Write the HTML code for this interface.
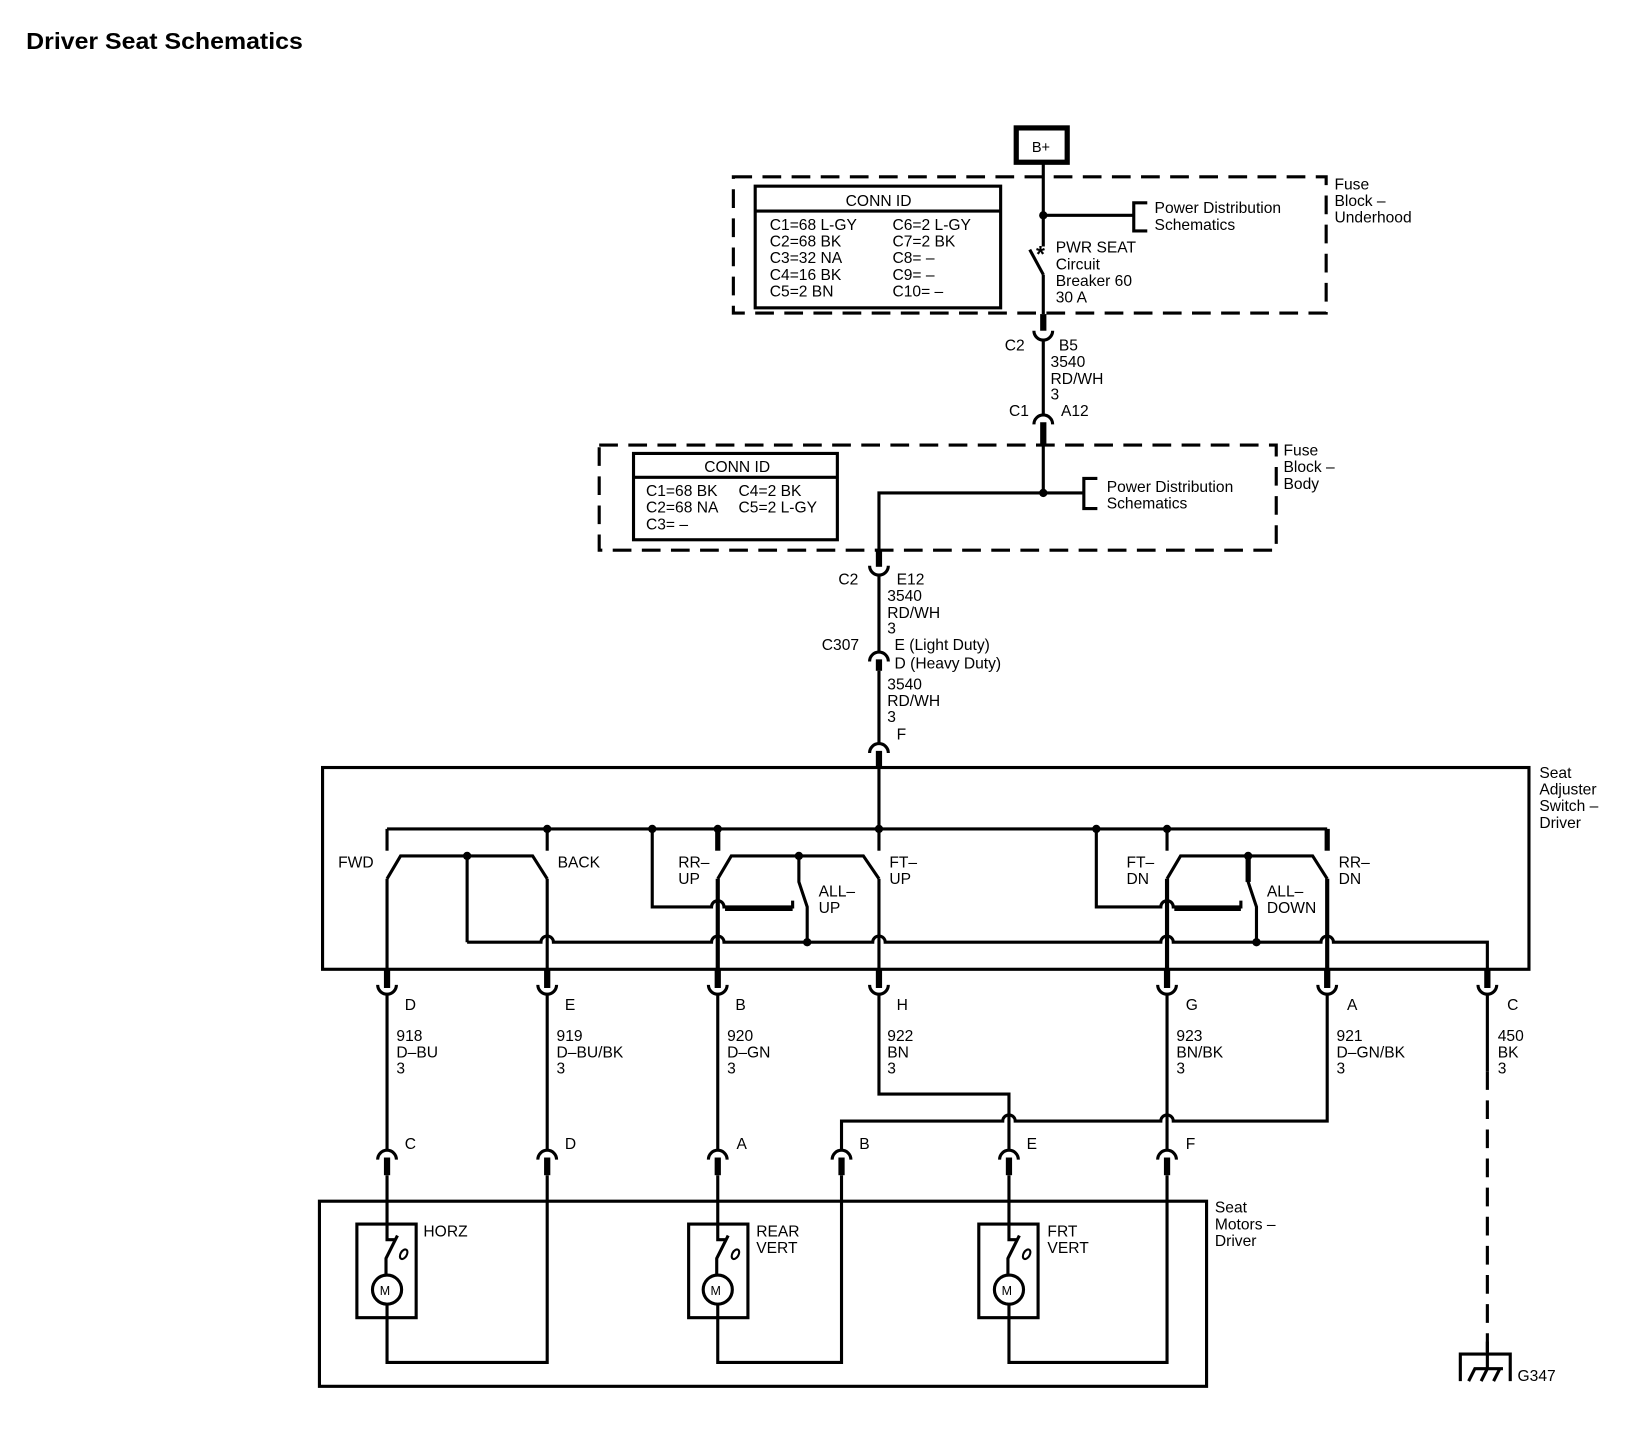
<!DOCTYPE html>
<html><head><meta charset="utf-8"><style>
html,body{margin:0;padding:0;background:#fff;}
svg{display:block;}
text{font-family:"Liberation Sans",sans-serif;font-size:15px;fill:#000;}
</style></head><body>
<svg width="1630" height="1456" viewBox="0 0 1567 1400" xmlns="http://www.w3.org/2000/svg">
<g fill="none" stroke="#000" stroke-width="3">
<rect x="977" y="123" width="49" height="33" stroke-width="5"/>
<rect x="705" y="170" width="570" height="131" stroke-dasharray="18,10"/>
<rect x="726" y="179" width="236" height="117"/>
<line x1="726" y1="203" x2="962" y2="203"/>
<line x1="1003" y1="157" x2="1003" y2="237"/>
<line x1="1003" y1="207" x2="1090" y2="207"/>
<path d="M1103 195 H1090 V222 H1103"/>
<line x1="990" y1="240" x2="1003" y2="264"/>
<line x1="1003" y1="264" x2="1003" y2="302"/>
<line x1="1003" y1="302" x2="1003" y2="318" stroke-width="6"/>
<path d="M994 318 A9 9 0 0 0 1012 318"/>
<line x1="1003" y1="327" x2="1003" y2="398"/>
<path d="M994 408 A9 9 0 0 1 1012 408"/>
<line x1="1003" y1="406" x2="1003" y2="428" stroke-width="6"/>
<rect x="576" y="428" width="651" height="101" stroke-dasharray="18,10"/>
<rect x="609" y="436" width="196" height="83"/>
<line x1="609" y1="459" x2="805" y2="459"/>
<line x1="1003" y1="428" x2="1003" y2="474"/>
<line x1="1003" y1="474" x2="1042" y2="474"/>
<path d="M1055 460 H1042 V489 H1055"/>
<path d="M1003 474 H845 V530"/>
<line x1="845" y1="529" x2="845" y2="545" stroke-width="6"/>
<path d="M836 544 A9 9 0 0 0 854 544"/>
<line x1="845" y1="553" x2="845" y2="626"/>
<path d="M836 636 A9 9 0 0 1 854 636"/>
<line x1="845" y1="634" x2="845" y2="645" stroke-width="6"/>
<line x1="845" y1="645" x2="845" y2="714"/>
<path d="M836 724 A9 9 0 0 1 854 724"/>
<line x1="845" y1="722" x2="845" y2="738" stroke-width="6"/>
<rect x="310" y="738" width="1160" height="194"/>
<line x1="845" y1="738" x2="845" y2="797"/>
<line x1="372" y1="797" x2="1276" y2="797"/>
<line x1="372" y1="797" x2="372" y2="818"/>
<line x1="526" y1="797" x2="526" y2="818"/>
<line x1="690" y1="797" x2="690" y2="818" stroke-width="5"/>
<line x1="845" y1="797" x2="845" y2="818"/>
<line x1="1122" y1="797" x2="1122" y2="818"/>
<line x1="1276" y1="797" x2="1276" y2="818" stroke-width="5"/>
<path d="M372 845 L385 823 H512 L526 845"/>
<path d="M690 845 L703 823 H830 L845 845"/>
<path d="M1122 845 L1135 823 H1262 L1276 845"/>
<line x1="449" y1="823" x2="449" y2="906"/>
<path d="M768 823 V848 L776 872 V906"/>
<path d="M1200 823 V848 L1208 872 V906" />
<line x1="1200" y1="823" x2="1200" y2="848" stroke-width="5"/>
<path d="M627 797 V872 H684 A6 6 0 0 1 696 872 H762 V866"/>
<line x1="697" y1="874" x2="762" y2="874" stroke-width="4"/>
<path d="M1054 797 V872 H1116 A6 6 0 0 1 1128 872 H1193 V866"/>
<line x1="1129" y1="874" x2="1193" y2="874" stroke-width="4"/>
<line x1="372" y1="845" x2="372" y2="932"/>
<line x1="526" y1="845" x2="526" y2="932"/>
<line x1="690" y1="845" x2="690" y2="932" stroke-width="4"/>
<line x1="845" y1="845" x2="845" y2="932"/>
<line x1="1122" y1="845" x2="1122" y2="932" stroke-width="4"/>
<line x1="1276" y1="845" x2="1276" y2="932" stroke-width="4"/>
<path d="M449 906 H520 A6 6 0 0 1 532 906 H684 A6 6 0 0 1 696 906 H839 A6 6 0 0 1 851 906 H1116 A6 6 0 0 1 1128 906 H1270 A6 6 0 0 1 1282 906 H1430 V932"/>
<g>
<line x1="372" y1="932" x2="372" y2="950" stroke-width="6"/><path d="M363 947 A9 9 0 0 0 381 947"/>
<line x1="526" y1="932" x2="526" y2="950" stroke-width="6"/><path d="M517 947 A9 9 0 0 0 535 947"/>
<line x1="690" y1="932" x2="690" y2="950" stroke-width="6"/><path d="M681 947 A9 9 0 0 0 699 947"/>
<line x1="845" y1="932" x2="845" y2="950" stroke-width="6"/><path d="M836 947 A9 9 0 0 0 854 947"/>
<line x1="1122" y1="932" x2="1122" y2="950" stroke-width="6"/><path d="M1113 947 A9 9 0 0 0 1131 947"/>
<line x1="1276" y1="932" x2="1276" y2="950" stroke-width="6"/><path d="M1267 947 A9 9 0 0 0 1285 947"/>
<line x1="1430" y1="932" x2="1430" y2="950" stroke-width="6"/><path d="M1421 947 A9 9 0 0 0 1439 947"/>
</g>
<line x1="372" y1="956" x2="372" y2="1105"/>
<line x1="526" y1="956" x2="526" y2="1105"/>
<line x1="690" y1="956" x2="690" y2="1105"/>
<path d="M845 956 V1052 H970 V1105"/>
<line x1="1122" y1="956" x2="1122" y2="1105"/>
<path d="M1276 956 V1078 H1128 A6 6 0 0 0 1116 1078 H976 A6 6 0 0 0 964 1078 H809 V1105"/>
<line x1="1430" y1="956" x2="1430" y2="1030"/>
<line x1="1430" y1="1030" x2="1430" y2="1302" stroke-dasharray="18,10"/>
<line x1="1430" y1="1290" x2="1430" y2="1316"/>
<path d="M1404 1328 V1302 H1452 V1328"/>
<path d="M1412 1328 L1418 1316 H1445 M1424 1328 L1430 1316 M1436 1328 L1442 1316" stroke-width="3"/>
<g>
<path d="M363 1115 A9 9 0 0 1 381 1115"/><line x1="372" y1="1113" x2="372" y2="1130" stroke-width="6"/>
<path d="M517 1115 A9 9 0 0 1 535 1115"/><line x1="526" y1="1113" x2="526" y2="1130" stroke-width="6"/>
<path d="M681 1115 A9 9 0 0 1 699 1115"/><line x1="690" y1="1113" x2="690" y2="1130" stroke-width="6"/>
<path d="M800 1115 A9 9 0 0 1 818 1115"/><line x1="809" y1="1113" x2="809" y2="1130" stroke-width="6"/>
<path d="M961 1115 A9 9 0 0 1 979 1115"/><line x1="970" y1="1113" x2="970" y2="1130" stroke-width="6"/>
<path d="M1113 1115 A9 9 0 0 1 1131 1115"/><line x1="1122" y1="1113" x2="1122" y2="1130" stroke-width="6"/>
</g>
<rect x="307" y="1155" width="853" height="178"/>
<g>
<rect x="343" y="1177" width="57" height="90"/>
<path d="M372 1130 V1192 H380 M382 1188 L371 1210 V1226 M372 1254 V1310 H526 V1130"/>
<circle cx="372" cy="1240" r="14"/>
<ellipse cx="388" cy="1206" rx="3" ry="5" transform="rotate(30 388 1206)" stroke-width="2"/>
<rect x="662" y="1177" width="57" height="90"/>
<path d="M690 1130 V1192 H698 M700 1188 L689 1210 V1226 M690 1254 V1310 H809 V1130"/>
<circle cx="690" cy="1240" r="14"/>
<ellipse cx="707" cy="1206" rx="3" ry="5" transform="rotate(30 707 1206)" stroke-width="2"/>
<rect x="941" y="1177" width="57" height="90"/>
<path d="M970 1130 V1192 H978 M980 1188 L969 1210 V1226 M970 1254 V1310 H1122 V1130"/>
<circle cx="970" cy="1240" r="14"/>
<ellipse cx="987" cy="1206" rx="3" ry="5" transform="rotate(30 987 1206)" stroke-width="2"/>
</g>
</g>
<g fill="#000">
<circle cx="1003" cy="207" r="4"/><circle cx="1003" cy="474" r="4"/>
<circle cx="526" cy="797" r="4"/><circle cx="627" cy="797" r="4"/><circle cx="690" cy="797" r="4"/><circle cx="845" cy="797" r="4"/><circle cx="1054" cy="797" r="4"/><circle cx="1122" cy="797" r="4"/>
<circle cx="449" cy="823" r="4"/><circle cx="768" cy="823" r="4"/><circle cx="1200" cy="823" r="4"/>
<circle cx="776" cy="906" r="4"/><circle cx="1208" cy="906" r="4"/>
</g>
<text x="25" y="47" style="font-size:22px;font-weight:bold" textLength="266" lengthAdjust="spacingAndGlyphs">Driver Seat Schematics</text>
<text x="992" y="146" style="font-size:14px">B+</text>
<text x="813" y="198">CONN ID</text>
<text x="740" y="221">C1=68 L-GY</text><text x="858" y="221">C6=2 L-GY</text>
<text x="740" y="237">C2=68 BK</text><text x="858" y="237">C7=2 BK</text>
<text x="740" y="253">C3=32 NA</text><text x="858" y="253">C8= –</text>
<text x="740" y="269">C4=16 BK</text><text x="858" y="269">C9= –</text>
<text x="740" y="285">C5=2 BN</text><text x="858" y="285">C10= –</text>
<text x="1283" y="182">Fuse</text><text x="1283" y="198">Block –</text><text x="1283" y="214">Underhood</text>
<text x="1110" y="205">Power Distribution</text><text x="1110" y="221">Schematics</text>
<text x="996" y="252" style="font-size:22px;font-weight:bold">*</text>
<text x="1015" y="243">PWR SEAT</text><text x="1015" y="259">Circuit</text><text x="1015" y="275">Breaker 60</text><text x="1015" y="291">30 A</text>
<text x="966" y="337">C2</text><text x="1018" y="337">B5</text>
<text x="1010" y="353">3540</text><text x="1010" y="369">RD/WH</text><text x="1010" y="384">3</text>
<text x="970" y="400">C1</text><text x="1020" y="400">A12</text>
<text x="677" y="454">CONN ID</text>
<text x="621" y="477">C1=68 BK</text><text x="710" y="477">C4=2 BK</text>
<text x="621" y="493">C2=68 NA</text><text x="710" y="493">C5=2 L-GY</text>
<text x="621" y="509">C3= –</text>
<text x="1234" y="438">Fuse</text><text x="1234" y="454">Block –</text><text x="1234" y="470">Body</text>
<text x="1064" y="473">Power Distribution</text><text x="1064" y="489">Schematics</text>
<text x="806" y="562">C2</text><text x="862" y="562">E12</text>
<text x="853" y="578">3540</text><text x="853" y="594">RD/WH</text><text x="853" y="609">3</text>
<text x="790" y="625">C307</text><text x="860" y="625">E (Light Duty)</text><text x="860" y="643">D (Heavy Duty)</text>
<text x="853" y="663">3540</text><text x="853" y="679">RD/WH</text><text x="853" y="694">3</text>
<text x="862" y="711">F</text>
<text x="1480" y="748">Seat</text><text x="1480" y="764">Adjuster</text><text x="1480" y="780">Switch –</text><text x="1480" y="796">Driver</text>
<text x="325" y="834">FWD</text><text x="536" y="834">BACK</text>
<text x="652" y="834">RR–</text><text x="652" y="850">UP</text>
<text x="787" y="862">ALL–</text><text x="787" y="878">UP</text>
<text x="855" y="834">FT–</text><text x="855" y="850">UP</text>
<text x="1083" y="834">FT–</text><text x="1083" y="850">DN</text>
<text x="1218" y="862">ALL–</text><text x="1218" y="878">DOWN</text>
<text x="1287" y="834">RR–</text><text x="1287" y="850">DN</text>
<text x="389" y="971">D</text><text x="543" y="971">E</text><text x="707" y="971">B</text><text x="862" y="971">H</text><text x="1140" y="971">G</text><text x="1295" y="971">A</text><text x="1449" y="971">C</text>
<text x="381" y="1001">918</text><text x="381" y="1017">D–BU</text><text x="381" y="1032">3</text>
<text x="535" y="1001">919</text><text x="535" y="1017">D–BU/BK</text><text x="535" y="1032">3</text>
<text x="699" y="1001">920</text><text x="699" y="1017">D–GN</text><text x="699" y="1032">3</text>
<text x="853" y="1001">922</text><text x="853" y="1017">BN</text><text x="853" y="1032">3</text>
<text x="1131" y="1001">923</text><text x="1131" y="1017">BN/BK</text><text x="1131" y="1032">3</text>
<text x="1285" y="1001">921</text><text x="1285" y="1017">D–GN/BK</text><text x="1285" y="1032">3</text>
<text x="1440" y="1001">450</text><text x="1440" y="1017">BK</text><text x="1440" y="1032">3</text>
<text x="389" y="1105">C</text><text x="543" y="1105">D</text><text x="708" y="1105">A</text><text x="826" y="1105">B</text><text x="987" y="1105">E</text><text x="1140" y="1105">F</text>
<text x="1168" y="1166">Seat</text><text x="1168" y="1182">Motors –</text><text x="1168" y="1198">Driver</text>
<text x="407" y="1189">HORZ</text>
<text x="727" y="1189">REAR</text><text x="727" y="1205">VERT</text>
<text x="1007" y="1189">FRT</text><text x="1007" y="1205">VERT</text>
<text x="365" y="1245" style="font-size:12px">M</text><text x="683" y="1245" style="font-size:12px">M</text><text x="963" y="1245" style="font-size:12px">M</text>
<text x="1459" y="1328">G347</text>
</svg>
</body></html>
